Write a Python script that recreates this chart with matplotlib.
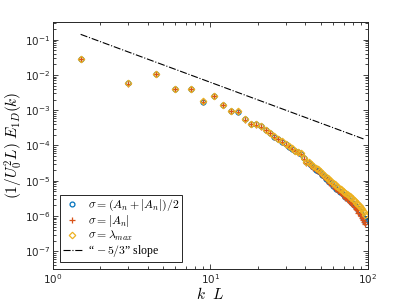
import numpy as np
import matplotlib
matplotlib.use("Agg")
import matplotlib.pyplot as plt
from matplotlib.ticker import FuncFormatter, LogLocator, NullFormatter

# wavenumbers k L
k_vals = [1.5, 3.0, 4.5, 6.0, 7.5, 9.0, 10.5, 12.0, 13.5, 15.0, 16.5, 18.0, 19.5, 21.0,
          22.5, 24.0, 25.5, 27.0, 28.5, 30.0, 31.5, 33.0, 34.5, 36.0, 37.5, 39.0, 40.5,
          42.0, 43.5, 45.0, 46.5, 48.0, 49.5, 51.0, 52.5, 54.0, 55.5, 57.0, 58.5, 60.0,
          61.5, 63.0, 64.5, 66.0, 67.5, 69.0, 70.5, 72.0, 73.5, 75.0, 76.5, 78.0, 79.5,
          81.0, 82.5, 84.0, 85.5, 87.0, 88.5, 90.0, 91.5, 93.0, 94.5, 96.0]

# sigma = (A_n + |A_n|)/2
E_mean = [2.84e-2, 5.9e-3, 1.07e-2, 4.07e-3, 3.98e-3, 1.75e-3, 2.48e-3, 1.41e-3, 9.3e-4,
          9.1e-4, 5.5e-4, 4.07e-4, 3.98e-4, 3.47e-4, 2.75e-4, 2.24e-4, 1.78e-4, 1.51e-4,
          1.29e-4, 1.07e-4, 9.3e-5, 8.1e-5, 6.9e-5, 6.4e-5, 5.75e-5, 4.3e-5, 3.3e-5,
          3.2e-5, 2.75e-5, 2.4e-5, 2.05e-5, 1.95e-5, 1.72e-5, 1.45e-5, 1.34e-5, 1.15e-5,
          1.07e-5, 9.0e-6, 8.4e-6, 7.1e-6, 6.7e-6, 5.9e-6, 5.6e-6, 4.9e-6, 4.7e-6,
          4.1e-6, 3.9e-6, 3.5e-6, 3.4e-6, 3.1e-6, 2.8e-6, 2.5e-6, 2.4e-6, 2.1e-6,
          2.0e-6, 1.75e-6, 1.66e-6, 1.45e-6, 1.38e-6, 1.15e-6, 1.07e-6, 8.8e-7, 8.3e-7,
          7.0e-7]

# sigma = |A_n|
E_abs = [2.80e-2, 5.7e-3, 1.06e-2, 4.0e-3, 3.95e-3, 1.72e-3, 2.45e-3, 1.39e-3, 9.2e-4,
         9.0e-4, 5.4e-4, 4.0e-4, 3.9e-4, 3.42e-4, 2.72e-4, 2.2e-4, 1.76e-4, 1.49e-4,
         1.27e-4, 1.05e-4, 9.1e-5, 8.0e-5, 6.8e-5, 6.3e-5, 5.6e-5, 4.2e-5, 3.25e-5,
         3.1e-5, 2.7e-5, 2.35e-5, 2.0e-5, 1.9e-5, 1.68e-5, 1.42e-5, 1.3e-5, 1.12e-5,
         1.04e-5, 8.8e-6, 8.1e-6, 6.9e-6, 6.4e-6, 5.7e-6, 5.3e-6, 4.7e-6, 4.4e-6,
         3.9e-6, 3.6e-6, 3.3e-6, 3.1e-6, 2.85e-6, 2.55e-6, 2.3e-6, 2.15e-6, 1.9e-6,
         1.75e-6, 1.55e-6, 1.45e-6, 1.25e-6, 1.18e-6, 9.8e-7, 9.0e-7, 7.6e-7, 7.0e-7,
         6.0e-7]

# sigma = lambda_max
E_lmax = [2.86e-2, 6.0e-3, 1.08e-2, 4.1e-3, 4.0e-3, 1.77e-3, 2.5e-3, 1.43e-3, 9.4e-4,
          9.2e-4, 5.6e-4, 4.1e-4, 4.0e-4, 3.5e-4, 2.8e-4, 2.28e-4, 1.82e-4, 1.55e-4,
          1.32e-4, 1.1e-4, 9.6e-5, 8.4e-5, 7.2e-5, 6.7e-5, 6.0e-5, 4.5e-5, 3.5e-5,
          3.4e-5, 2.95e-5, 2.6e-5, 2.25e-5, 2.15e-5, 1.9e-5, 1.62e-5, 1.5e-5, 1.3e-5,
          1.22e-5, 1.05e-5, 9.8e-6, 8.4e-6, 8.0e-6, 7.1e-6, 6.8e-6, 6.0e-6, 5.8e-6,
          5.1e-6, 4.9e-6, 4.4e-6, 4.3e-6, 3.9e-6, 3.6e-6, 3.3e-6, 3.2e-6, 2.8e-6,
          2.7e-6, 2.4e-6, 2.3e-6, 2.0e-6, 1.95e-6, 1.65e-6, 1.6e-6, 1.35e-6, 1.3e-6,
          1.1e-6]

# reference -5/3 line end points
slope_k = [1.5, 95.0]
slope_E = [0.141, 1.5e-4]

x_ticks = [1, 10, 100]
y_ticks = [1e-7, 1e-6, 1e-5, 1e-4, 1e-3, 1e-2, 1e-1]

fig = plt.figure(figsize=(4.07, 3.05), dpi=100)
ax = fig.add_axes([0.130, 0.118, 0.774, 0.810])

ax.plot(k_vals, E_mean, linestyle="none", marker="o", markersize=3.5,
        markerfacecolor="none", markeredgecolor="#0072BD", markeredgewidth=0.9,
        label=r"$\sigma = (A_n + |A_n|)/2$")
ax.plot(k_vals, E_abs, linestyle="none", marker="+", markersize=5,
        color="#D95319", markeredgewidth=0.9, label=r"$\sigma = |A_n|$")
ax.plot(k_vals, E_lmax, linestyle="none", marker="D", markersize=3.3,
        markerfacecolor="none", markeredgecolor="#EDB120", markeredgewidth=0.9,
        label=r"$\sigma = \lambda_{max}$")
ax.plot(slope_k, slope_E, color="black", linestyle="-.", linewidth=0.8,
        label=r"“ $-\,5/3$” slope")

ax.set_xscale("log")
ax.set_yscale("log")
ax.set_xlim(1, 100)
ax.set_ylim(10 ** -7.5, 10 ** -0.5)

fmt = FuncFormatter(lambda v, p: r"$\mathregular{10^{%d}}$" % int(round(np.log10(v))))
ax.set_xticks(x_ticks)
ax.set_yticks(y_ticks)
ax.xaxis.set_major_formatter(fmt)
ax.yaxis.set_major_formatter(fmt)
ax.xaxis.set_minor_locator(LogLocator(base=10, subs=np.arange(2, 10), numticks=20))
ax.yaxis.set_minor_locator(LogLocator(base=10, subs=np.arange(2, 10), numticks=20))
ax.xaxis.set_minor_formatter(NullFormatter())
ax.yaxis.set_minor_formatter(NullFormatter())
ax.tick_params(which="both", direction="in", top=True, right=True, labelsize=7.5,
               colors="#262626", width=0.6, pad=2)
ax.tick_params(which="major", length=3.5)
ax.tick_params(which="minor", length=2)
for s in ax.spines.values():
    s.set_linewidth(0.7)
    s.set_color("#262626")

xl = ax.set_xlabel(r"$k\ \ L$", fontsize=11, labelpad=0)
yl = ax.set_ylabel(r"$(1/U_0^2 L)\ E_{1D}(k)$", fontsize=11, labelpad=0)
xl.set_math_fontfamily("cm")
yl.set_math_fontfamily("cm")

leg = ax.legend(loc="lower left", frameon=True, fancybox=False,
                edgecolor="#262626", framealpha=1, handlelength=1.6,
                borderpad=0.25, labelspacing=0.0, handletextpad=0.5,
                borderaxespad=0.6, prop={"family": "Liberation Serif", "size": 8.5})
leg.get_frame().set_linewidth(0.7)
for t in leg.get_texts():
    t.set_math_fontfamily("cm")

fig.savefig("out.png", dpi=100)
